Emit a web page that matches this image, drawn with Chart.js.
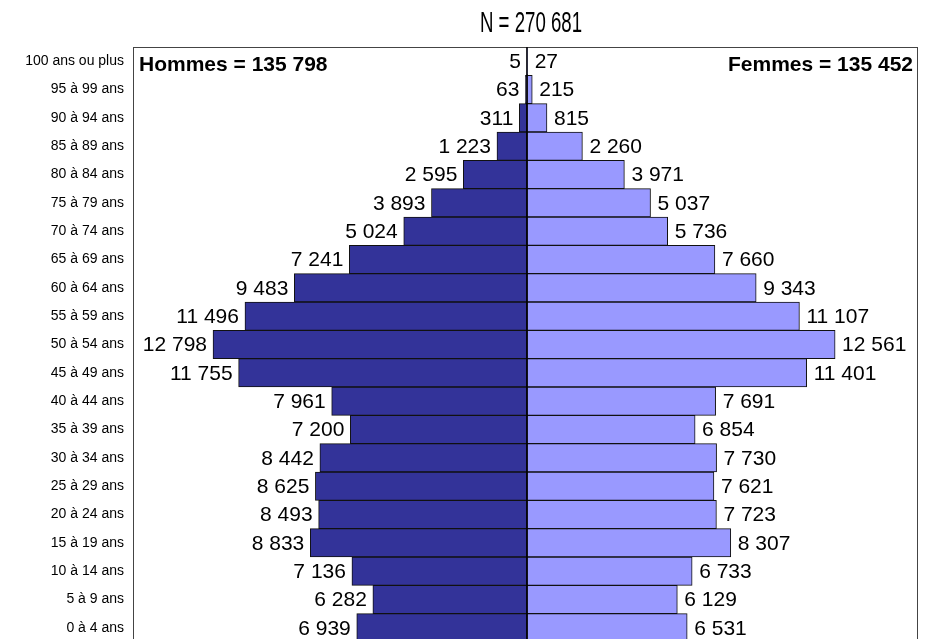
<!DOCTYPE html>
<html>
<head>
<meta charset="utf-8">
<script src="https://cdn.jsdelivr.net/npm/chart.js@4.4.1/dist/chart.umd.min.js"></script>
<style>
    html, body { margin: 0; padding: 0; background: #fff; overflow: hidden; }
    #wrap { width: 933px; height: 660px; }
</style>
</head>
<body>
<div id="wrap"><canvas id="pyramid" width="933" height="660"></canvas></div>
<script>
var ageGroups = [
    '100 ans ou plus', '95 à 99 ans', '90 à 94 ans', '85 à 89 ans', '80 à 84 ans',
    '75 à 79 ans', '70 à 74 ans', '65 à 69 ans', '60 à 64 ans', '55 à 59 ans',
    '50 à 54 ans', '45 à 49 ans', '40 à 44 ans', '35 à 39 ans', '30 à 34 ans',
    '25 à 29 ans', '20 à 24 ans', '15 à 19 ans', '10 à 14 ans', '5 à 9 ans', '0 à 4 ans'
];
var hommes = [5, 63, 311, 1223, 2595, 3893, 5024, 7241, 9483, 11496, 12798,
    11755, 7961, 7200, 8442, 8625, 8493, 8833, 7136, 6282, 6939];
var femmes = [27, 215, 815, 2260, 3971, 5037, 5736, 7660, 9343, 11107, 12561,
    11401, 7691, 6854, 7730, 7621, 7723, 8307, 6733, 6129, 6531];
var totalLabel = 'N = 270 681';
var hommesLabel = 'Hommes = 135 798';
var femmesLabel = 'Femmes = 135 452';
var axisMin = -16060;
var axisMax = 15940;

function fmt(n) {
    // french thousands separator
    return String(n).replace(/\B(?=(\d{3})+(?!\d))/g, ' ');
}

var pyramidPlugin = {
    id: 'pyramidDecor',
    afterDatasetsDraw: function(chart) {
        var ctx = chart.ctx;
        var area = chart.chartArea;
        var xs = chart.scales.x;
        var ys = chart.scales.y;
        var zero = xs.getPixelForValue(0);
        ctx.save();

        // plot frame
        ctx.strokeStyle = '#444';
        ctx.lineWidth = 1;
        ctx.strokeRect(area.left + 0.5, area.top + 0.5, area.right - area.left - 1, area.bottom - area.top);

        // centre line
        ctx.strokeStyle = '#000';
        ctx.lineWidth = 1.5;
        ctx.beginPath();
        ctx.moveTo(zero, area.top);
        ctx.lineTo(zero, area.bottom);
        ctx.stroke();

        // value labels
        ctx.fillStyle = '#000';
        ctx.font = '21px "Liberation Sans", Arial, sans-serif';
        ctx.textBaseline = 'middle';
        ageGroups.forEach(function(g, i) {
            var y = ys.getPixelForValue(i) + 1;
            ctx.textAlign = 'right';
            ctx.fillText(fmt(hommes[i]), xs.getPixelForValue(-hommes[i]) - 6, y);
            ctx.textAlign = 'left';
            ctx.fillText(fmt(femmes[i]), xs.getPixelForValue(femmes[i]) + 7, y);
        });

        // sex totals
        ctx.font = 'bold 21px "Liberation Sans", Arial, sans-serif';
        ctx.textBaseline = 'alphabetic';
        ctx.textAlign = 'left';
        ctx.fillText(hommesLabel, area.left + 6, area.top + 24);
        ctx.textAlign = 'right';
        ctx.fillText(femmesLabel, area.right - 5, area.top + 24);

        // N title, condensed
        ctx.font = '29px "Liberation Sans", Arial, sans-serif';
        ctx.textAlign = 'center';
        var w = ctx.measureText(totalLabel).width;
        ctx.translate(531, 32);
        ctx.scale(102 / w, 1);
        ctx.fillText(totalLabel, 0, 0);
        ctx.restore();
    }
};

new Chart(document.getElementById('pyramid'), {
    type: 'bar',
    data: {
        labels: ageGroups,
        datasets: [{
            label: 'Hommes',
            data: hommes.map(function(v) { return -v; }),
            backgroundColor: '#333399',
            borderColor: '#111',
            borderWidth: 1,
            borderSkipped: false,
            barPercentage: 1,
            categoryPercentage: 1
        }, {
            label: 'Femmes',
            data: femmes,
            backgroundColor: '#9999ff',
            borderColor: '#111',
            borderWidth: 1,
            borderSkipped: false,
            barPercentage: 1,
            categoryPercentage: 1
        }]
    },
    options: {
        indexAxis: 'y',
        responsive: false,
        animation: false,
        layout: { padding: { top: 47, right: 15, bottom: 18, left: 0 } },
        plugins: {
            legend: { display: false },
            tooltip: { enabled: false },
            title: { display: false }
        },
        scales: {
            x: {
                stacked: true,
                display: false,
                min: axisMin,
                max: axisMax
            },
            y: {
                stacked: true,
                grid: { display: false, drawTicks: false },
                border: { display: false },
                ticks: {
                    color: '#000',
                    padding: 9,
                    font: { family: '"Liberation Sans", Arial, sans-serif', size: 14 }
                },
                afterFit: function(scale) { scale.width = 133; }
            }
        }
    },
    plugins: [pyramidPlugin]
});
</script>
</body>
</html>
